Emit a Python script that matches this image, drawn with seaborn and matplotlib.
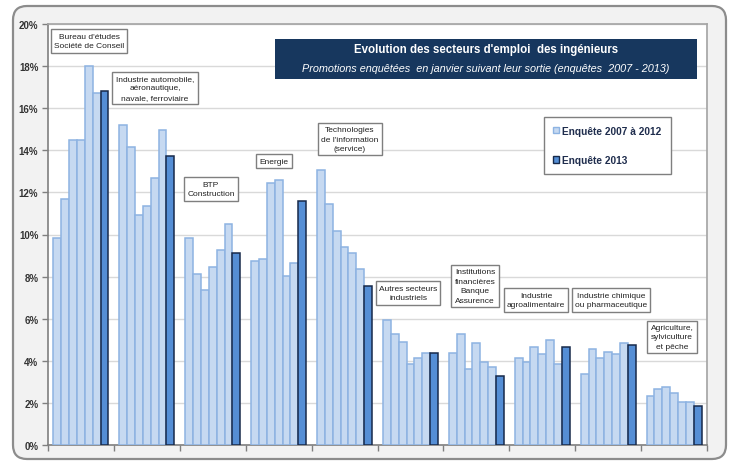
import numpy as np
import pandas as pd
import matplotlib
matplotlib.use("Agg")
import matplotlib.pyplot as plt
import seaborn as sns
from matplotlib.patches import Patch, FancyBboxPatch, Rectangle

# one value per sector (10 sectors), one list per survey
secteurs = ["Bureau", "Auto", "BTP", "Energie", "TI", "Autres", "Finance", "Agro", "Chimie", "Agri"]
enquetes = ["2007", "2008", "2009", "2010", "2011", "2012", "2013"]
e2007 = [9.85, 15.2, 9.85, 8.75, 13.05, 5.95, 4.35, 4.15, 3.35, 2.35]
e2008 = [11.7, 14.15, 8.1, 8.85, 11.45, 5.25, 5.25, 3.95, 4.55, 2.65]
e2009 = [14.5, 10.95, 7.35, 12.45, 10.15, 4.9, 3.6, 4.65, 4.15, 2.75]
e2010 = [14.5, 11.35, 8.45, 12.6, 9.4, 3.85, 4.85, 4.3, 4.4, 2.45]
e2011 = [18.0, 12.7, 9.25, 8.05, 9.1, 4.15, 3.95, 5.0, 4.3, 2.05]
e2012 = [16.7, 14.95, 10.5, 8.65, 8.35, 4.35, 3.7, 3.85, 4.85, 2.05]
e2013 = [16.8, 13.75, 9.1, 11.6, 7.55, 4.35, 3.3, 4.65, 4.75, 1.85]

etiquettes = [
    "Bureau d'études\nSociété de Conseil",
    "Industrie automobile,\naéronautique,\nnavale, ferroviaire",
    "BTP\nConstruction",
    "Energie",
    "Technologies\nde l'information\n(service)",
    "Autres secteurs\nindustriels",
    "Institutions\nfinancières\nBanque\nAssurence",
    "Industrie\nagroalimentaire",
    "Industrie chimique\nou pharmaceutique",
    "Agriculture,\nsylviculture\net pêche",
]
# label box centres in pixels of the 729x464 picture
etiq_pos = [(89, 42), (155, 89), (211, 190), (274, 162), (350, 140),
            (408, 294), (475, 287), (536, 301), (611, 301), (672, 338)]

series = [e2007, e2008, e2009, e2010, e2011, e2012, e2013]
df = pd.DataFrame({
    "secteur": secteurs * len(enquetes),
    "enquete": np.repeat(enquetes, len(secteurs)),
    "valeur": np.concatenate(series),
})

light, light_edge = "#c6d9f1", "#8db3e2"
dark, dark_edge = "#558ed5", "#17294a"
palette = [light] * 6 + [dark]

sns.set_theme(style="white")
plt.rcParams["font.family"] = ["Liberation Sans", "DejaVu Sans"]

W, H = 729, 464
fig = plt.figure(figsize=(W / 100, H / 100), dpi=100)
fig.patch.set_facecolor("white")

frame = FancyBboxPatch((0.13, 0.04), 7.13, 4.53,
                       boxstyle="round,pad=0,rounding_size=0.14",
                       transform=fig.dpi_scale_trans,
                       facecolor="#f2f2f2", edgecolor="#8c8c8c", lw=1.6,
                       zorder=-10)
fig.patches.append(frame)

ax = fig.add_axes([48 / W, 1 - 446 / H, (707 - 48) / W, (446 - 25) / H])
ax.set_zorder(1)
ax.set_facecolor("white")
sns.barplot(data=df, x="secteur", y="valeur", hue="enquete", palette=palette,
            width=7 / 8.4, saturation=1, legend=False, ax=ax, zorder=3)
for i, cont in enumerate(ax.containers):
    for bar in cont:
        bar.set_edgecolor(dark_edge if i == 6 else light_edge)
        bar.set_linewidth(1.1)

ax.set_ylim(0, 20)
ax.set_xlim(-0.5, 9.5)
ax.set_yticks(range(0, 21, 2))
ax.set_yticklabels([f"{v}%" for v in range(0, 21, 2)], fontsize=7,
                   fontweight="bold", color="#333333")
ax.set_xticks(np.arange(-0.5, 10, 1))
ax.set_xticklabels([])
ax.set_xlabel("")
ax.set_ylabel("")
ax.set_axisbelow(True)
ax.yaxis.grid(True, color="#d9d9d9", lw=1)
ax.tick_params(axis="both", direction="out", length=4, width=1, color="#7f7f7f",
               left=True, bottom=True, pad=3)
for side in ["top", "right"]:
    ax.spines[side].set_color("#a6a6a6")
for side in ["left", "bottom"]:
    ax.spines[side].set_color("#7f7f7f")
    ax.spines[side].set_linewidth(1.2)

handles = [Patch(facecolor=light, edgecolor=light_edge),
           Patch(facecolor=dark, edgecolor=dark_edge)]
leg = ax.legend(handles, ["Enquête 2007 à 2012", "Enquête 2013"],
                loc="upper left", bbox_to_anchor=(0.753, 0.78),
                frameon=True, fancybox=False, edgecolor="#7f7f7f",
                prop={"size": 7.3, "weight": "bold"}, handlelength=0.6,
                handleheight=0.6, handletextpad=0.3, labelspacing=1.9,
                borderpad=0.9, borderaxespad=0, framealpha=1)
for t in leg.get_texts():
    t.set_color("#1f2d4d")

# title block
fig.patches.append(Rectangle((2.75, (H - 80) / 100), 4.22, 0.40,
                             transform=fig.dpi_scale_trans,
                             facecolor="#17375e", edgecolor="none", zorder=5))
fig.text(486 / W, 1 - 50 / H, "Evolution des secteurs d'emploi  des ingénieurs",
         ha="center", va="center", color="white", fontsize=8.3,
         fontweight="bold", zorder=6)
fig.text(486 / W, 1 - 69 / H,
         "Promotions enquêtées  en janvier suivant leur sortie (enquêtes  2007 - 2013)",
         ha="center", va="center", color="white", fontsize=7.8, style="italic",
         zorder=6)

for txt, (px, py) in zip(etiquettes, etiq_pos):
    fig.text(px / W, 1 - py / H, txt, ha="center", va="center", fontsize=6.0,
             color="#222222", linespacing=1.5, zorder=6,
             bbox=dict(boxstyle="square,pad=0.4", facecolor="white",
                       edgecolor="#7f7f7f", lw=1))

fig.savefig("out.png", dpi=100)
